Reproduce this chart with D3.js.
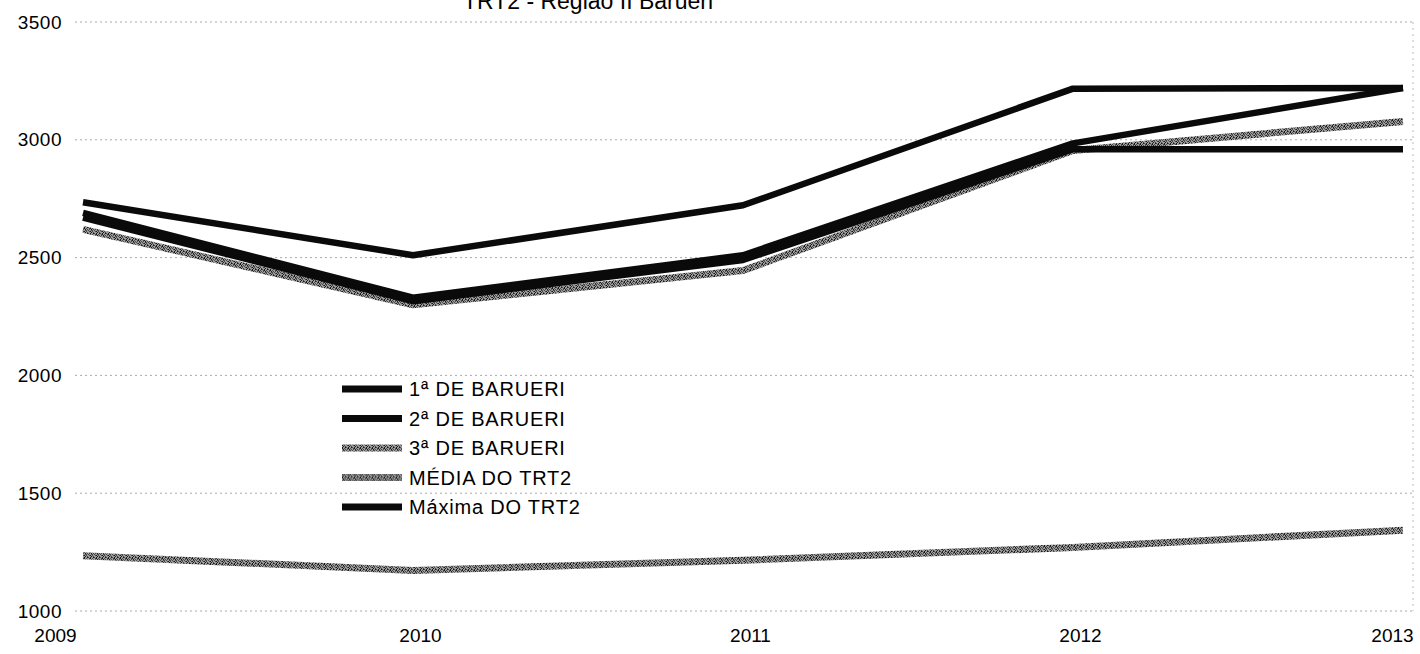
<!DOCTYPE html>
<html>
<head>
<meta charset="utf-8">
<script src="https://cdn.jsdelivr.net/npm/d3@7"></script>
<style>
  body { margin: 0; background: #fff; }
  svg { font-family: "Liberation Sans", Arial, sans-serif; }
</style>
</head>
<body>
<div class="chart"></div>
<script>
// data
let years = ['2009', '2010', '2011', '2012', '2013'];
let yTicks = [1000, 1500, 2000, 2500, 3000, 3500];
let seriesNames = ['1ª DE BARUERI', '2ª DE BARUERI', '3ª DE BARUERI', 'MÉDIA DO TRT2', 'Máxima DO TRT2'];
let primeira = [2690, 2330, 2510, 2985, 3220];
let segunda = [2670, 2315, 2490, 2960, 2960];
let terceira = [2620, 2300, 2445, 2955, 3078];
let media = [1235, 1172, 1215, 1270, 1343];
let maxima = [2735, 2510, 2722, 3217, 3220];

let values = [primeira, segunda, terceira, media, maxima];
let gray = [false, false, true, true, false];

let W = 1420, H = 654;
let margin = { top: 22, right: 17, bottom: 43, left: 83 };

let svg = d3.select('.chart')
    .append('svg')
    .attr('width', W)
    .attr('height', H);

// halftone-ish fill for the grey series (scanned look)
let dots = [[0,0],[2,0],[5,0],[1,1],[3,1],[4,2],[0,3],[2,3],[5,3],[1,4],[3,4],[4,5],[0,5],[5,1],[2,2],[3,5],[1,2]];
let pat = svg.append('defs').append('pattern')
    .attr('id', 'dither')
    .attr('patternUnits', 'userSpaceOnUse')
    .attr('width', 6).attr('height', 6);
pat.append('rect').attr('width', 6).attr('height', 6).attr('fill', '#9c9c9c');
pat.selectAll('rect.d')
    .data(dots)
    .enter()
    .append('rect')
    .attr('class', 'd')
    .attr('x', d => d[0]).attr('y', d => d[1])
    .attr('width', 1).attr('height', 1)
    .attr('fill', (d, i) => i % 3 === 0 ? '#1a1a1a' : '#4a4a4a');

let x = d3.scalePoint()
    .domain(years)
    .range([margin.left, W - margin.right]);

let y = d3.scaleLinear()
    .domain([1000, 3500])
    .range([H - margin.bottom, margin.top]);

// title, cut off by the top of the scan
svg.append('text')
    .attr('x', 588)
    .attr('y', 9)
    .attr('text-anchor', 'middle')
    .style('font-size', '23px')
    .text('TRT2 - Região II Barueri');

// gridlines
svg.append('g')
    .selectAll('line')
    .data(yTicks)
    .enter()
    .append('line')
    .attr('x1', margin.left - 8)
    .attr('x2', W - 7)
    .attr('y1', d => y(d))
    .attr('y2', d => y(d))
    .attr('stroke', '#aaa')
    .attr('stroke-width', 1)
    .attr('stroke-dasharray', '2,3');

svg.append('line')
    .attr('x1', W - 7).attr('x2', W - 7)
    .attr('y1', y(3500)).attr('y2', y(1000))
    .attr('stroke', '#bbb')
    .attr('stroke-dasharray', '2,4');

// y axis labels
let yAxis = d3.axisLeft(y).tickValues(yTicks).tickSize(0).tickPadding(0).tickFormat(d3.format('d'));
let gy = svg.append('g')
    .attr('transform', 'translate(62,0)')
    .call(yAxis);
gy.select('.domain').remove();
gy.selectAll('text')
    .style('font-size', '19px')
    .style('letter-spacing', '0.5px')
    .attr('fill', '#000')
    .attr('font-family', null);

// x axis labels
let xAxis = d3.axisBottom(x).tickSize(0).tickPadding(0);
let gx = svg.append('g')
    .attr('transform', 'translate(0,628)')
    .call(xAxis);
gx.select('.domain').remove();
gx.selectAll('text')
    .style('font-size', '19px')
    .attr('fill', '#000')
    .attr('font-family', null)
    .attr('dx', (d, i) => i === 0 ? -28 : (i === years.length - 1 ? -11 : 7));

// lines
let line = d3.line()
    .x((d, i) => x(years[i]))
    .y(d => y(d));

let order = [3, 2, 1, 0, 4];
svg.append('g')
    .selectAll('path')
    .data(order)
    .enter()
    .append('path')
    .attr('d', k => line(values[k]))
    .attr('fill', 'none')
    .attr('stroke', k => gray[k] ? 'url(#dither)' : '#0a0a0a')
    .attr('stroke-width', k => gray[k] ? 7 : 6.5)
    .attr('stroke-linejoin', 'round');

// legend
let legend = svg.append('g')
    .selectAll('g')
    .data(seriesNames)
    .enter()
    .append('g')
    .attr('transform', (d, i) => `translate(342, ${389 + i * 29.5})`);

legend.append('line')
    .attr('x1', 0).attr('x2', 60)
    .attr('stroke', (d, i) => gray[i] ? 'url(#dither)' : '#0a0a0a')
    .attr('stroke-width', 7);

legend.append('text')
    .attr('x', 67)
    .attr('y', 7)
    .style('font-size', '20px')
    .style('letter-spacing', '0.8px')
    .text(d => d);
</script>
</body>
</html>
